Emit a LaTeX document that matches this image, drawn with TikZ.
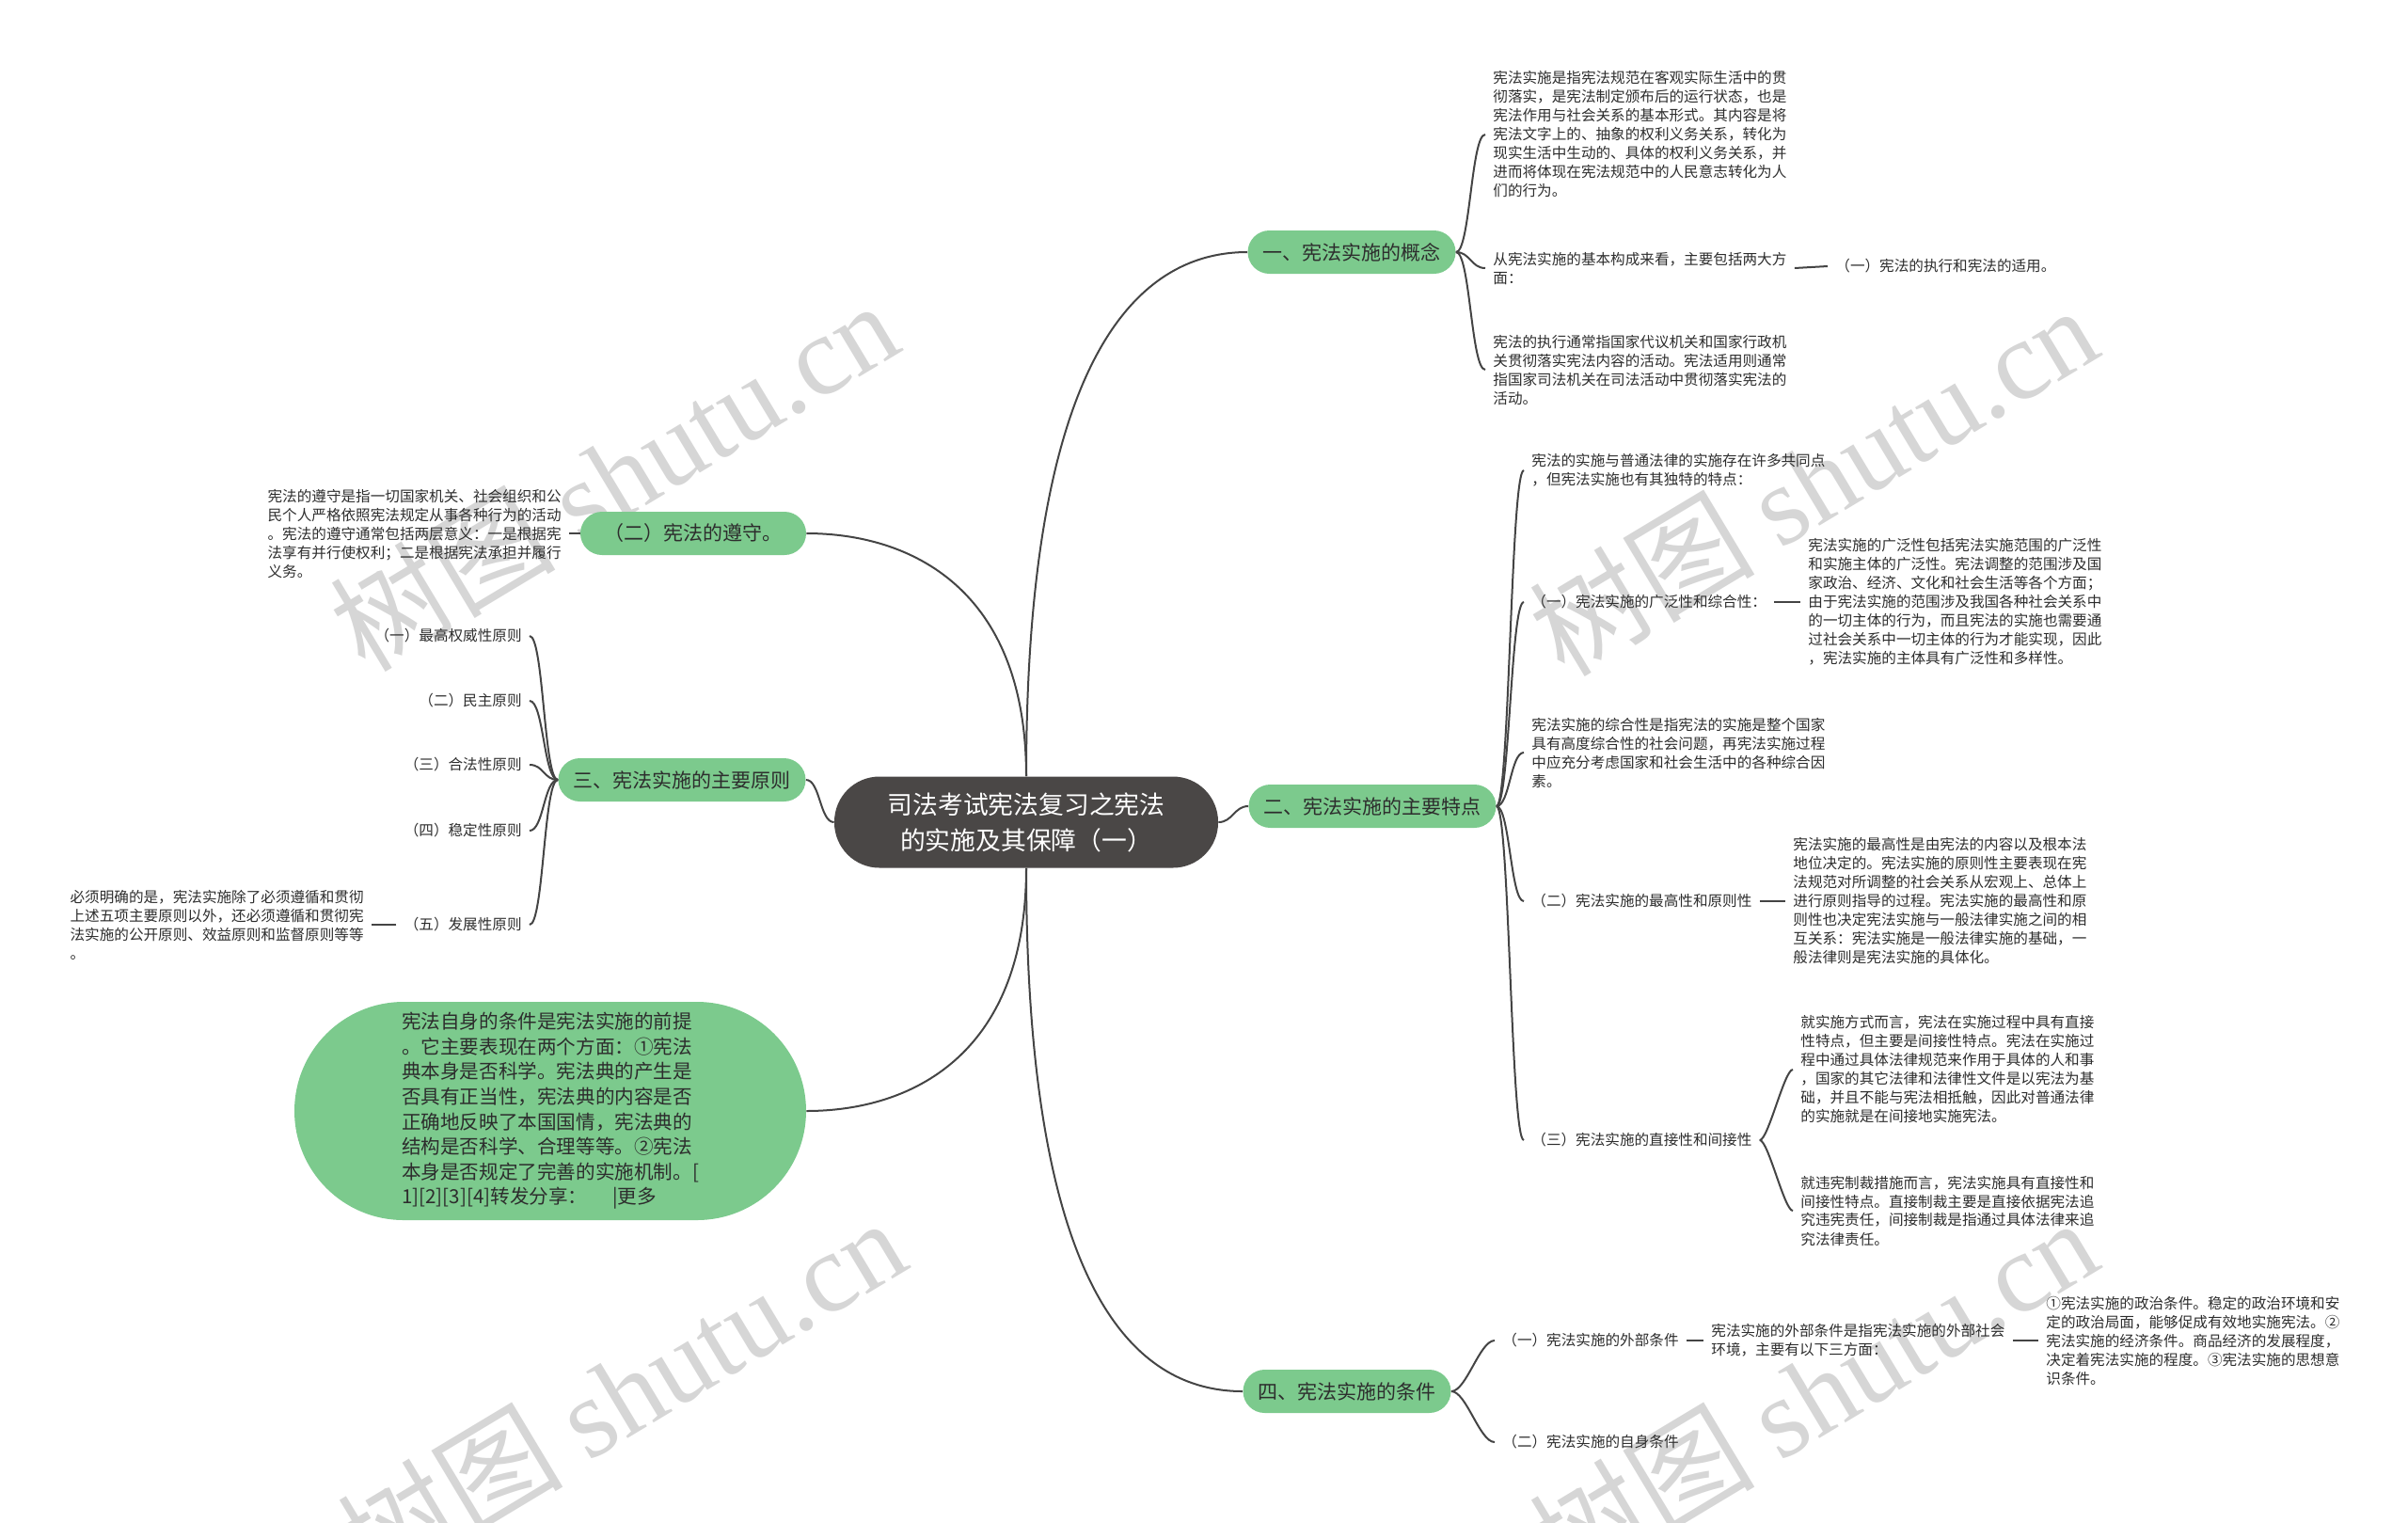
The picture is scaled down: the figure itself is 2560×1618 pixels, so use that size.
\documentclass[tikz,border=0pt]{standalone}
\usepackage{fontspec}
\setmainfont{Noto Sans CJK SC}
\newfontfamily\wmfont{Liberation Serif}

\definecolor{leafgreen}{RGB}{124,202,141}
\definecolor{rootgray}{RGB}{74,71,70}
\definecolor{linkgray}{RGB}{68,68,68}
\definecolor{inkgray}{RGB}{45,45,45}

\tikzset{
	root/.style={fill=rootgray, text=white, rounded corners=24pt, minimum width=204pt, minimum height=48.5pt, align=center, font=\fontsize{13.4}{19}\selectfont},
	branch/.style={fill=leafgreen, text=inkgray, rounded corners=11.5pt, minimum height=23pt, inner xsep=8pt, font=\fontsize{10.5}{13}\selectfont},
	leaf/.style={text=inkgray, inner xsep=4pt, inner ysep=2pt, align=left, font=\fontsize{7.8}{10}\selectfont},
	link/.style={draw=linkgray, line width=1pt},
	wmark/.style={text=black!16, font=\fontsize{60}{60}\selectfont, rotate=31}
}

\begin{document}
\begin{tikzpicture}[x=0.5pt, y=-0.5pt]
	\useasboundingbox (0,0) rectangle (2560,1618);

	\node[wmark] (wm1) at (652,505) {树图 {\wmfont shutu.cn}};
	\node[wmark] (wm2) at (1927,510) {树图 {\wmfont shutu.cn}};
	\node[wmark] (wm3) at (660,1480) {树图 {\wmfont shutu.cn}};
	\node[wmark] (wm4) at (1927,1480) {树图 {\wmfont shutu.cn}};

	\node[root] (root) at (1091,874) {司法考试宪法复习之宪法\\的实施及其保障（一）};

	\node[branch] (b1) at (1437,268) {一、宪法实施的概念};
	\node[branch] (b2) at (1459,857) {二、宪法实施的主要特点};
	\node[branch] (b4) at (1432,1479) {四、宪法实施的条件};
	\node[branch, minimum width=120pt] (b3) at (737,567) {（二）宪法的遵守。};
	\node[branch] (b5) at (725,829) {三、宪法实施的主要原则};
	\node[branch, rounded corners=58pt, minimum width=272pt, minimum height=116pt, align=left, font=\fontsize{10.3}{13.3}\selectfont] (b6) at (585,1181) {宪法自身的条件是宪法实施的前提\\
	。它主要表现在两个方面：①宪法\\
	典本身是否科学。宪法典的产生是\\
	否具有正当性，宪法典的内容是否\\
	正确地反映了本国国情，宪法典的\\
	结构是否科学、合理等等。②宪法\\
	本身是否规定了完善的实施机制。[\\
	1][2][3][4]转发分享：\hspace{1.3em}|更多};

	\draw[link] (root.north) .. controls +(0,-420) and +(-130,0) .. (b1.west);
	\draw[link] (root.east) .. controls +(15,0) and +(-15,0) .. (b2.west);
	\draw[link] (root.south) .. controls +(0,420) and +(-130,0) .. (b4.west);
	\draw[link] (root.north) .. controls +(0,-200) and +(110,0) .. (b3.east);
	\draw[link] (root.west) .. controls +(-15,0) and +(15,0) .. (b5.east);
	\draw[link] (root.south) .. controls +(0,200) and +(110,0) .. (b6.east);

	\node[leaf, anchor=west] (t11) at (1579,143) {宪法实施是指宪法规范在客观实际生活中的贯\\
	彻落实，是宪法制定颁布后的运行状态，也是\\
	宪法作用与社会关系的基本形式。其内容是将\\
	宪法文字上的、抽象的权利义务关系，转化为\\
	现实生活中生动的、具体的权利义务关系，并\\
	进而将体现在宪法规范中的人民意志转化为人\\
	们的行为。};
	\node[leaf, anchor=west] (t12) at (1579,285) {从宪法实施的基本构成来看，主要包括两大方\\面：};
	\node[leaf, anchor=west] (t121) at (1943,283) {（一）宪法的执行和宪法的适用。};
	\node[leaf, anchor=west] (t13) at (1579,393) {宪法的执行通常指国家代议机关和国家行政机\\
	关贯彻落实宪法内容的活动。宪法适用则通常\\
	指国家司法机关在司法活动中贯彻落实宪法的\\
	活动。};
	\foreach \k in {t11,t12,t13}
		\draw[link] (b1.east) .. controls +(15,0) and +(-15,0) .. (\k.west);
	\draw[link] (t12.east) -- (t121.west);

	\node[leaf, anchor=west] (t21) at (1620,500) {宪法的实施与普通法律的实施存在许多共同点\\，但宪法实施也有其独特的特点：};
	\node[leaf, anchor=west] (t22) at (1620,640) {（一）宪法实施的广泛性和综合性：};
	\node[leaf, anchor=west] (t221) at (1914,640) {宪法实施的广泛性包括宪法实施范围的广泛性\\
	和实施主体的广泛性。宪法调整的范围涉及国\\
	家政治、经济、文化和社会生活等各个方面；\\
	由于宪法实施的范围涉及我国各种社会关系中\\
	的一切主体的行为，而且宪法的实施也需要通\\
	过社会关系中一切主体的行为才能实现，因此\\
	，宪法实施的主体具有广泛性和多样性。};
	\node[leaf, anchor=west] (t23) at (1620,800) {宪法实施的综合性是指宪法的实施是整个国家\\
	具有高度综合性的社会问题，再宪法实施过程\\
	中应充分考虑国家和社会生活中的各种综合因\\
	素。};
	\node[leaf, anchor=west] (t24) at (1620,958) {（二）宪法实施的最高性和原则性};
	\node[leaf, anchor=west] (t241) at (1898,958) {宪法实施的最高性是由宪法的内容以及根本法\\
	地位决定的。宪法实施的原则性主要表现在宪\\
	法规范对所调整的社会关系从宏观上、总体上\\
	进行原则指导的过程。宪法实施的最高性和原\\
	则性也决定宪法实施与一般法律实施之间的相\\
	互关系：宪法实施是一般法律实施的基础，一\\
	般法律则是宪法实施的具体化。};
	\node[leaf, anchor=west] (t25) at (1620,1212) {（三）宪法实施的直接性和间接性};
	\node[leaf, anchor=west] (t251) at (1906,1137) {就实施方式而言，宪法在实施过程中具有直接\\
	性特点，但主要是间接性特点。宪法在实施过\\
	程中通过具体法律规范来作用于具体的人和事\\
	，国家的其它法律和法律性文件是以宪法为基\\
	础，并且不能与宪法相抵触，因此对普通法律\\
	的实施就是在间接地实施宪法。};
	\node[leaf, anchor=west] (t252) at (1906,1287) {就违宪制裁措施而言，宪法实施具有直接性和\\
	间接性特点。直接制裁主要是直接依据宪法追\\
	究违宪责任，间接制裁是指通过具体法律来追\\
	究法律责任。};
	\foreach \k in {t21,t22,t23,t24,t25}
		\draw[link] (b2.east) .. controls +(14,0) and +(-14,0) .. (\k.west);
	\draw[link] (t22.east) -- (t221.west);
	\draw[link] (t24.east) -- (t241.west);
	\foreach \k in {t251,t252}
		\draw[link] (t25.east) .. controls +(9,0) and +(-9,0) .. (\k.west);

	\node[leaf, anchor=west] (t41) at (1589,1425) {（一）宪法实施的外部条件};
	\node[leaf, anchor=west] (t411) at (1811,1425) {宪法实施的外部条件是指宪法实施的外部社会\\环境，主要有以下三方面：};
	\node[leaf, anchor=west] (t4111) at (2167,1425) {①宪法实施的政治条件。稳定的政治环境和安\\
	定的政治局面，能够促成有效地实施宪法。②\\
	宪法实施的经济条件。商品经济的发展程度，\\
	决定着宪法实施的程度。③宪法实施的思想意\\
	识条件。};
	\node[leaf, anchor=west] (t42) at (1589,1533) {（二）宪法实施的自身条件};
	\foreach \k in {t41,t42}
		\draw[link] (b4.east) .. controls +(16,0) and +(-16,0) .. (\k.west);
	\draw[link] (t41.east) -- (t411.west);
	\draw[link] (t411.east) -- (t4111.west);

	\node[leaf, anchor=east] (t31) at (605,567) {宪法的遵守是指一切国家机关、社会组织和公\\
	民个人严格依照宪法规定从事各种行为的活动\\
	。宪法的遵守通常包括两层意义：一是根据宪\\
	法享有并行使权利；二是根据宪法承担并履行\\
	义务。};
	\draw[link] (b3.west) -- (t31.east);

	\node[leaf, anchor=east] (t51) at (563,676) {（一）最高权威性原则};
	\node[leaf, anchor=east] (t52) at (563,745) {（二）民主原则};
	\node[leaf, anchor=east] (t53) at (563,813) {（三）合法性原则};
	\node[leaf, anchor=east] (t54) at (563,883) {（四）稳定性原则};
	\node[leaf, anchor=east] (t55) at (563,983) {（五）发展性原则};
	\node[leaf, anchor=east] (t551) at (395,983) {必须明确的是，宪法实施除了必须遵循和贯彻\\
	上述五项主要原则以外，还必须遵循和贯彻宪\\
	法实施的公开原则、效益原则和监督原则等等\\
	。};
	\foreach \k in {t51,t52,t53,t54,t55}
		\draw[link] (b5.west) .. controls +(-15,0) and +(15,0) .. (\k.east);
	\draw[link] (t55.west) -- (t551.east);
\end{tikzpicture}
\end{document}
